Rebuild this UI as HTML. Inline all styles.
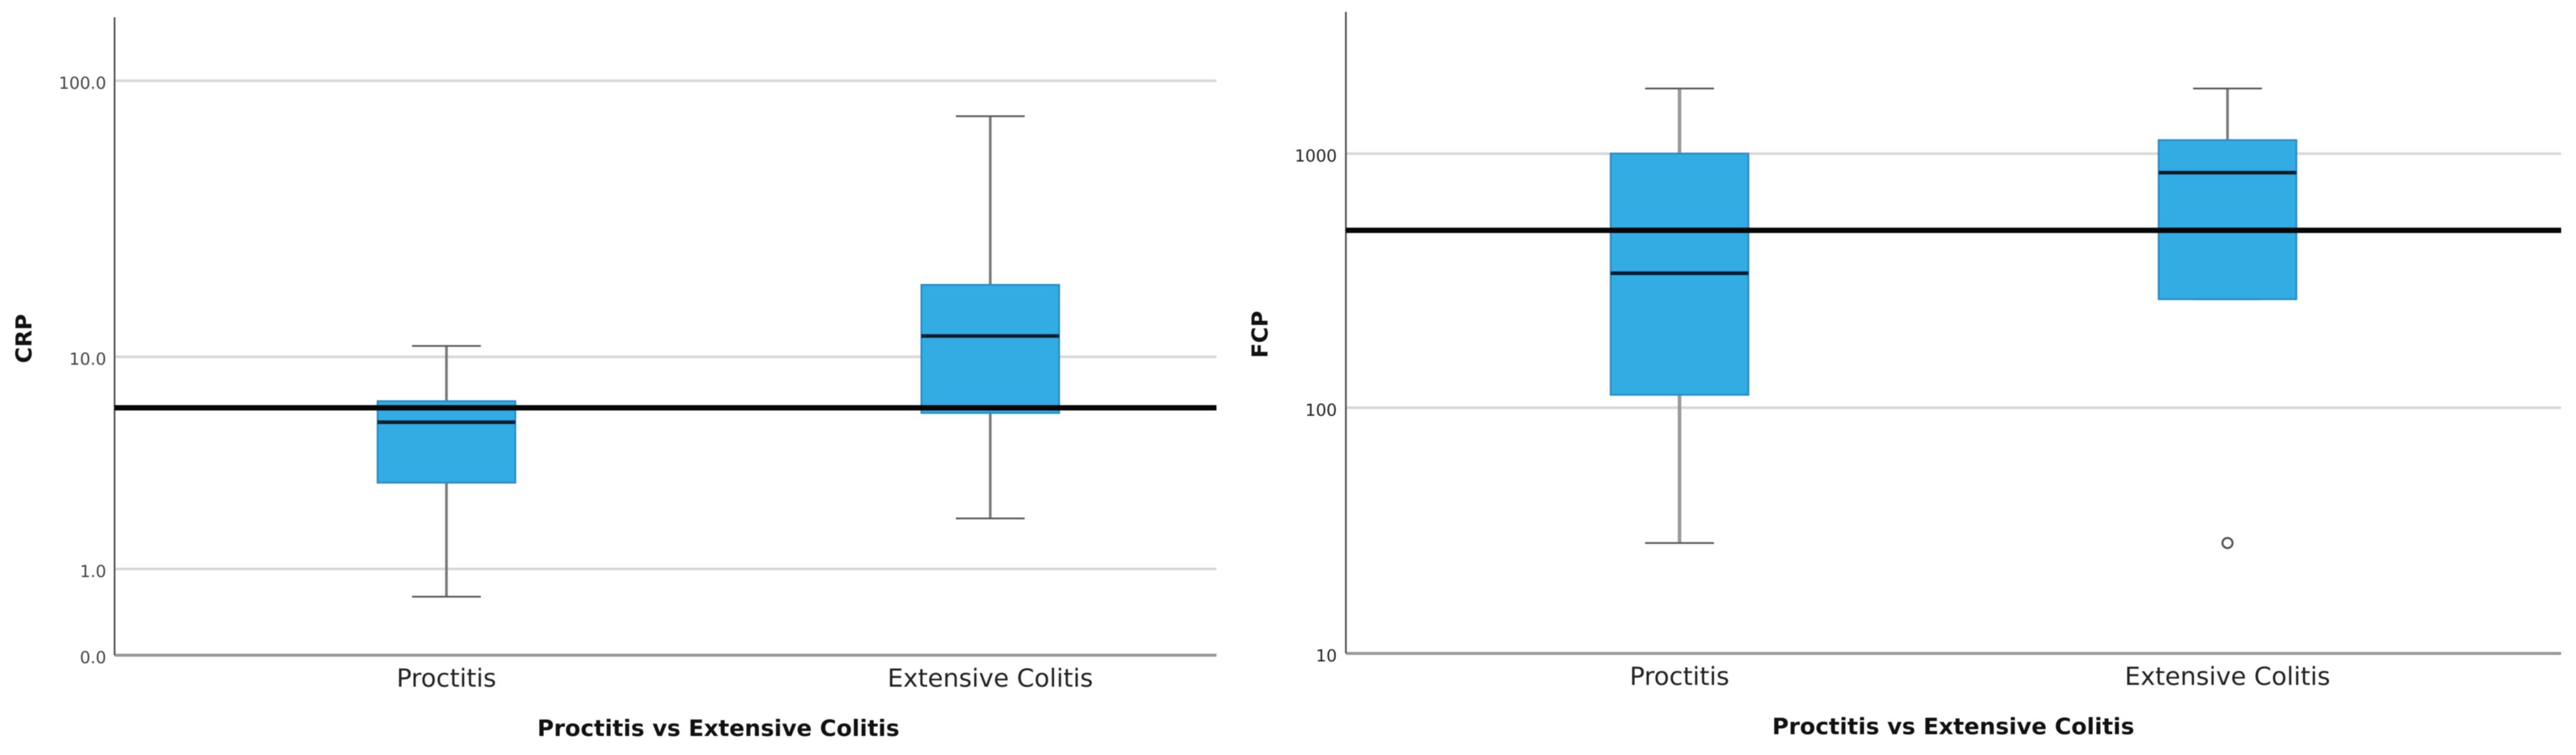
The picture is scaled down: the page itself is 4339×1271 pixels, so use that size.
<!DOCTYPE html>
<html lang="en">
<head>
<meta charset="utf-8">
<title>CRP and FCP: Proctitis vs Extensive Colitis</title>
<style>
  html, body { margin: 0; padding: 0; background: #fff; }
  body { width: 4339px; height: 1271px; overflow: hidden; }
  svg { display: block; filter: blur(0.7px); }
  text { font-family: "DejaVu Sans", "Liberation Sans", sans-serif; text-rendering: geometricPrecision; }
</style>
</head>
<body>
<svg id="figure" xmlns="http://www.w3.org/2000/svg" width="4339" height="1271" viewBox="0 0 4339 1271">
  <rect x="0" y="0" width="4339" height="1271" fill="#ffffff"/>
  <g id="crp-chart"></g>
  <g id="fcp-chart"></g>
</svg>
<script>
// Shared categories
const categories = ['Proctitis', 'Extensive Colitis'];
const xAxisTitle = 'Proctitis vs Extensive Colitis';

// CRP panel data
const crpTickValues = [0, 1, 10, 100];
const crpTickLabels = ['0.0', '1.0', '10.0', '100.0'];
const crpWhiskerLow = [0.6, 2.0];
const crpQ1 = [3.0, 6.0];
const crpMedian = [5.5, 12.0];
const crpQ3 = [6.7, 18.6];
const crpWhiskerHigh = [11.0, 75.0];
const crpOutliers = [[], []];
const crpReference = 6.3;

// FCP panel data
const fcpTickValues = [10, 100, 1000];
const fcpTickLabels = ['10', '100', '1000'];
const fcpWhiskerLow = [28.8, 268];
const fcpQ1 = [112.5, 268];
const fcpMedian = [339, 842];
const fcpQ3 = [1000, 1130];
const fcpWhiskerHigh = [1800, 1800];
const fcpOutliers = [[], [28.8]];
const fcpReference = 500;

const SVG_NS = 'http://www.w3.org/2000/svg';

function mk(parent, tag, attrs, content) {
  const el = document.createElementNS(SVG_NS, tag);
  for (const key in attrs) el.setAttribute(key, attrs[key]);
  if (content !== undefined) el.textContent = content;
  parent.appendChild(el);
  return el;
}

// SPSS-style log axis: position is linear in log10(value + 1)
function yScale(v0, y0, v1, y1) {
  const t0 = Math.log10(v0 + 1);
  const t1 = Math.log10(v1 + 1);
  return function (v) {
    return y0 + (Math.log10(v + 1) - t0) / (t1 - t0) * (y1 - y0);
  };
}

function xScale(first, step) {
  return function (i) { return first + i * step; };
}

function drawPanel(cfg) {
  const g = document.getElementById(cfg.id);
  const x = cfg.x;
  const y = cfg.y;
  const boxHalf = 116;
  const capHalf = 58;

  // Gridlines (skip a tick sitting on the baseline)
  cfg.tickValues.forEach(function (v, i) {
    if (Math.abs(y(v) - cfg.bottom) > 1) {
      const grid = mk(g, 'line', { x1: cfg.left, x2: cfg.right, y1: y(v), y2: y(v), stroke: '#d8d8d8', 'stroke-width': 4.5 });
      
      
    }
    const tick = mk(g, 'text', { x: cfg.tickRight, y: y(v) + 13.5, 'text-anchor': 'end', 'font-size': 28, fill: cfg.tickColor }, cfg.tickLabels[i]);
    
    
  });

  // Boxes and whiskers
  categories.forEach(function (name, i) {
    const cx = x(i);
    const slug = name.toLowerCase().replace(/\s+/g, '-');

    const upper = mk(g, 'line', { x1: cx, x2: cx, y1: y(cfg.q3[i]), y2: y(cfg.high[i]), stroke: cfg.whiskerColor[i], 'stroke-width': cfg.whiskerWidth[i] });
    
    

    const lower = mk(g, 'line', { x1: cx, x2: cx, y1: y(cfg.q1[i]), y2: y(cfg.low[i]), stroke: cfg.whiskerColor[i], 'stroke-width': cfg.whiskerWidth[i] });
    
    

    const capHigh = mk(g, 'line', { x1: cx - capHalf, x2: cx + capHalf, y1: y(cfg.high[i]), y2: y(cfg.high[i]), stroke: '#5a5a5a', 'stroke-width': 3 });
    
    

    const capLow = mk(g, 'line', { x1: cx - capHalf, x2: cx + capHalf, y1: y(cfg.low[i]), y2: y(cfg.low[i]), stroke: '#5a5a5a', 'stroke-width': 3 });
    
    

    const box = mk(g, 'rect', { x: cx - boxHalf, y: y(cfg.q3[i]), width: boxHalf * 2, height: y(cfg.q1[i]) - y(cfg.q3[i]), fill: '#33abe3', stroke: '#2a8cc6', 'stroke-width': 3 });
    
    

    const med = mk(g, 'line', { x1: cx - boxHalf, x2: cx + boxHalf, y1: y(cfg.median[i]), y2: y(cfg.median[i]), stroke: '#0b1c2c', 'stroke-width': 6 });
    
    

    cfg.outliers[i].forEach(function (v) {
      const dot = mk(g, 'circle', { cx: cx, cy: y(v), r: 8.5, fill: '#ffffff', stroke: '#555555', 'stroke-width': 3.5 });
      
      
    });

    const label = mk(g, 'text', { x: cx, y: cfg.bottom + 53, 'text-anchor': 'middle', 'font-size': 42, fill: '#222222' }, name);
    
    
  });

  // Axes
  const baseline = mk(g, 'line', { x1: cfg.left, x2: cfg.right, y1: cfg.bottom, y2: cfg.bottom, stroke: '#999999', 'stroke-width': 5 });
  
  

  const yAxis = mk(g, 'line', { x1: cfg.left, x2: cfg.left, y1: cfg.top, y2: cfg.bottom, stroke: '#555555', 'stroke-width': 3 });
  
  

  // Reference line over everything
  const ref = mk(g, 'line', { x1: cfg.left, x2: cfg.right, y1: y(cfg.reference), y2: y(cfg.reference), stroke: '#060606', 'stroke-width': 9 });
  
  

  // Titles
  const xTitle = mk(g, 'text', { x: cfg.titleX, y: cfg.titleY, 'text-anchor': 'middle', 'font-size': 38, 'font-weight': 700, fill: '#111111', textLength: 610, lengthAdjust: 'spacingAndGlyphs' }, xAxisTitle);
  
  

  const yTitle = mk(g, 'text', { transform: 'translate(' + cfg.yTitleX + ' ' + cfg.yTitleY + ') rotate(-90)', 'text-anchor': 'middle', 'font-size': 37, 'font-weight': 700, fill: '#111111' }, cfg.yTitle);
  
  
}

drawPanel({
  id: 'crp-chart',
  x: xScale(752, 916),
  y: yScale(0, 1103, 100, 136),
  left: 193, right: 2049, top: 29, bottom: 1103,
  tickRight: 179, tickColor: '#444444',
  tickValues: crpTickValues, tickLabels: crpTickLabels,
  low: crpWhiskerLow, q1: crpQ1, median: crpMedian, q3: crpQ3, high: crpWhiskerHigh,
  outliers: crpOutliers, reference: crpReference,
  whiskerColor: ['#7a7a7a', '#7a7a7a'], whiskerWidth: [4.5, 4.5],
  titleX: 1210, titleY: 1239,
  yTitle: 'CRP', yTitleX: 53, yTitleY: 570
});

drawPanel({
  id: 'fcp-chart',
  x: xScale(2829, 923),
  y: yScale(10, 1100, 1000, 258.6),
  left: 2267, right: 4314, top: 20, bottom: 1100,
  tickRight: 2252, tickColor: '#222222',
  tickValues: fcpTickValues, tickLabels: fcpTickLabels,
  low: fcpWhiskerLow, q1: fcpQ1, median: fcpMedian, q3: fcpQ3, high: fcpWhiskerHigh,
  outliers: fcpOutliers, reference: fcpReference,
  whiskerColor: ['#9a9a9a', '#7a7a7a'], whiskerWidth: [6, 4.5],
  titleX: 3290, titleY: 1236,
  yTitle: 'FCP', yTitleX: 2135, yTitleY: 563
});
</script>
</body>
</html>
